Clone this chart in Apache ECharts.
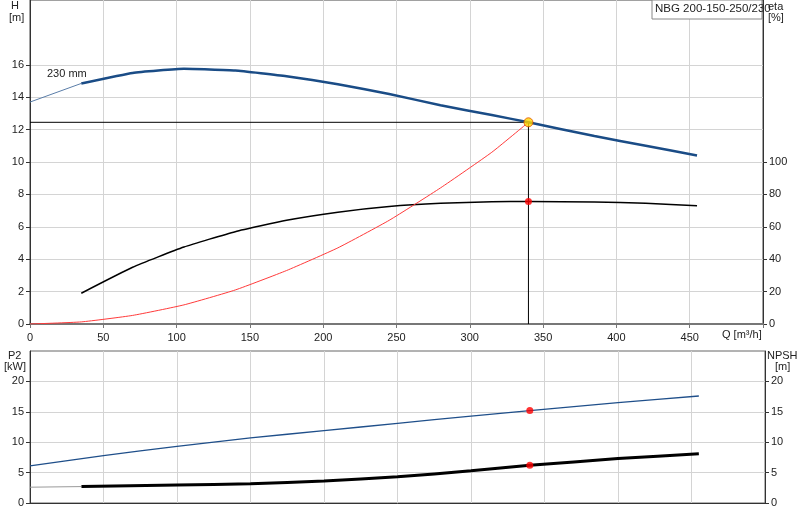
<!DOCTYPE html>
<html><head><meta charset="utf-8">
<script src="https://cdn.jsdelivr.net/npm/echarts@6/dist/echarts.min.js"></script>
<style>html,body{margin:0;padding:0;background:#fff}#c{width:800px;height:520px}</style>
</head><body><div id="c"></div>
<script>
const qHead = [35, 70, 105, 140, 175, 210, 245, 280, 315, 340, 385, 420, 455];
const headVals = [14.85, 15.5, 15.75, 15.65, 15.3, 14.8, 14.2, 13.5, 12.9, 12.45, 11.6, 11.0, 10.4];
const qHeadExt = [0, 35];
const headExtVals = [13.7, 14.85];
const qEta = [35, 70, 105, 140, 175, 210, 245, 280, 315, 340, 385, 420, 455];
const etaVals = [19, 35, 47.5, 57, 64, 69, 72.5, 74.5, 75.5, 75.6, 75.3, 74.5, 73];
const qSys = [0, 35, 70, 105, 140, 175, 210, 245, 280, 315, 340];
const sysVals = [0, 0.13, 0.53, 1.18, 2.1, 3.3, 4.7, 6.4, 8.4, 10.6, 12.45];
const qP2 = [0, 50, 100, 150, 200, 250, 300, 340, 400, 455];
const p2Vals = [6.1, 7.8, 9.3, 10.7, 11.9, 13.1, 14.3, 15.2, 16.5, 17.6];
const qNpshExt = [0, 35];
const npshExtVals = [2.6, 2.7];
const qNpsh = [35, 100, 150, 200, 250, 300, 340, 400, 455];
const npshVals = [2.7, 2.95, 3.15, 3.6, 4.3, 5.3, 6.2, 7.3, 8.1];
const hTicks = [0, 2, 4, 6, 8, 10, 12, 14, 16];
const etaTicks = [0, 20, 40, 60, 80, 100];
const lowTicks = [0, 5, 10, 15, 20];
const dutyQ = 340, dutyH = 12.45, dutyEta = 75.6, dutyP2 = 15.2, dutyNpsh = 6.2;
const title = 'NBG 200-150-250/230';

const pair = (xs, ys) => xs.map((x, i) => [x, ys[i]]);
const F = 'Liberation Sans, Arial, sans-serif';
const gridLine = {show: true, lineStyle: {color: '#d4d4d4', width: 1}};
const axLine = {show: true, lineStyle: {color: '#333', width: 1}};
function yAx(gi, pos, max, interval, ticks, split) {
  return {type: 'value', gridIndex: gi, position: pos, min: 0, max: max, interval: interval,
    axisLine: axLine, axisTick: {show: true, length: 4, lineStyle: {color: '#333'}, customValues: ticks},
    splitLine: split ? gridLine : {show: false},
    axisLabel: {fontFamily: F, fontSize: 11, color: '#222', margin: 6, customValues: ticks}};
}
const chart = echarts.init(document.getElementById('c'));
chart.setOption({
  animation: false,
  grid: [
    {left: 30, right: 37, top: 0, height: 324, show: true, borderColor: '#444', borderWidth: 1},
    {left: 30, right: 35, top: 351, height: 152, show: true, borderColor: '#666', borderWidth: 1}
  ],
  xAxis: [
    {type: 'value', gridIndex: 0, min: 0, max: 500, interval: 50, axisLine: {show: true, lineStyle: {color: '#777', width: 2}},
      axisTick: {show: true, length: 4}, splitLine: gridLine,
      axisLabel: {fontFamily: F, fontSize: 11, color: '#222', formatter: v => v >= 500 ? '' : String(v)}},
    {type: 'value', gridIndex: 1, min: 0, max: 500, interval: 50, axisLine: axLine,
      axisTick: {show: false}, splitLine: gridLine, axisLabel: {show: false}}
  ],
  yAxis: [
    yAx(0, 'left', 20, 2, hTicks, true),
    yAx(0, 'right', 200, 20, etaTicks, false),
    yAx(1, 'left', 25, 5, lowTicks, true),
    yAx(1, 'right', 25, 5, lowTicks, false)
  ],
  series: [
    {type: 'line', xAxisIndex: 0, yAxisIndex: 0, data: pair(qHeadExt, headExtVals), symbol: 'none', lineStyle: {color: '#5a7da8', width: 1}},
    {type: 'line', xAxisIndex: 0, yAxisIndex: 0, data: pair(qHead, headVals), symbol: 'none', smooth: 0.12, lineStyle: {color: '#1a4c86', width: 2.5}},
    {type: 'line', xAxisIndex: 0, yAxisIndex: 1, data: pair(qEta, etaVals), symbol: 'none', smooth: 0.15, lineStyle: {color: '#000', width: 1.5}},
    {type: 'line', xAxisIndex: 0, yAxisIndex: 0, data: pair(qSys, sysVals), symbol: 'none', smooth: 0.15, lineStyle: {color: '#ff3a3a', width: 1}},
    {type: 'line', xAxisIndex: 0, yAxisIndex: 0, data: [[0, dutyH], [dutyQ, dutyH], [dutyQ, 0]], symbol: 'none', lineStyle: {color: '#000', width: 1}, z: 1},
    {type: 'scatter', xAxisIndex: 0, yAxisIndex: 0, data: [[dutyQ, dutyH]], symbolSize: 9, itemStyle: {color: '#ffd700', borderColor: '#e05000', borderWidth: 1}, z: 5},
    {type: 'scatter', xAxisIndex: 0, yAxisIndex: 1, data: [[dutyQ, dutyEta]], symbolSize: 7, itemStyle: {color: '#f00'}, z: 5},
    {type: 'line', xAxisIndex: 1, yAxisIndex: 2, data: pair(qP2, p2Vals), symbol: 'none', smooth: 0.15, lineStyle: {color: '#1f4f8a', width: 1.3}},
    {type: 'line', xAxisIndex: 1, yAxisIndex: 3, data: pair(qNpshExt, npshExtVals), symbol: 'none', lineStyle: {color: '#999', width: 1}},
    {type: 'line', xAxisIndex: 1, yAxisIndex: 3, data: pair(qNpsh, npshVals), symbol: 'none', smooth: 0.15, lineStyle: {color: '#000', width: 3}},
    {type: 'scatter', xAxisIndex: 1, yAxisIndex: 2, data: [[dutyQ, dutyP2]], symbolSize: 7, itemStyle: {color: '#f00'}, z: 5},
    {type: 'scatter', xAxisIndex: 1, yAxisIndex: 3, data: [[dutyQ, dutyNpsh]], symbolSize: 7, itemStyle: {color: '#f00'}, z: 5}
  ],
  graphic: [
    {type: 'text', left: 11, top: 0, style: {text: 'H', font: '11px ' + F, fill: '#222'}},
    {type: 'text', left: 9, top: 12, style: {text: '[m]', font: '11px ' + F, fill: '#222'}},
    {type: 'text', left: 47, top: 68, style: {text: '230 mm', font: '11px ' + F, fill: '#222'}},
    {type: 'text', left: 768, top: 1, style: {text: 'eta', font: '11px ' + F, fill: '#222'}},
    {type: 'text', left: 768, top: 12, style: {text: '[%]', font: '11px ' + F, fill: '#222'}},
    {type: 'rect', shape: {x: 652, y: 0, width: 110, height: 19}, style: {fill: '#fff', stroke: '#888', lineWidth: 1}, z: 10},
    {type: 'text', left: 655, top: 3, z: 11, style: {text: title, font: '11.5px ' + F, fill: '#222'}},
    {type: 'text', left: 722, top: 329, style: {text: 'Q [m³/h]', font: '11px ' + F, fill: '#222'}},
    {type: 'text', left: 8, top: 350, style: {text: 'P2', font: '11px ' + F, fill: '#222'}},
    {type: 'text', left: 4, top: 361, style: {text: '[kW]', font: '11px ' + F, fill: '#222'}},
    {type: 'text', left: 767, top: 350, style: {text: 'NPSH', font: '11px ' + F, fill: '#222'}},
    {type: 'text', left: 775, top: 361, style: {text: '[m]', font: '11px ' + F, fill: '#222'}}
  ]
});
</script></body></html>
